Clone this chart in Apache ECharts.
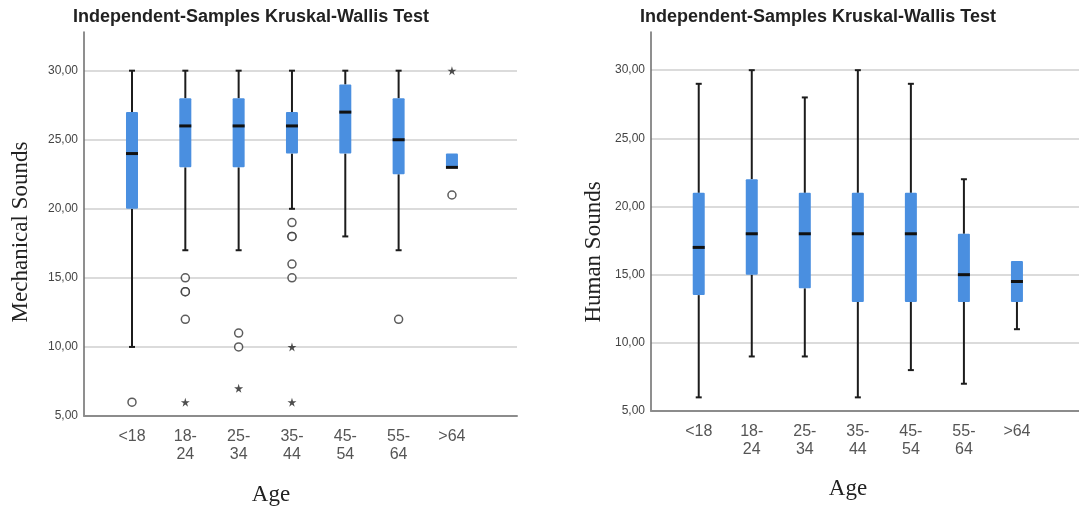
<!DOCTYPE html>
<html>
<head>
<meta charset="utf-8">
<script src="https://cdn.jsdelivr.net/npm/echarts@6/dist/echarts.min.js"></script>
<style>
  html, body { margin: 0; padding: 0; background: #fff; }
  #chart { width: 1079px; height: 508px; }
</style>
</head>
<body>
<div id="chart"></div>
<script>
var ageGroups = ['<18', '18-\n24', '25-\n34', '35-\n44', '45-\n54', '55-\n64', '>64'];
var yTicks = [5, 10, 15, 20, 25, 30];

// [low whisker, Q1, median, Q3, high whisker]
var mechBoxes = [
    [10, 20, 24, 27, 30],
    [17, 23, 26, 28, 30],
    [17, 23, 26, 28, 30],
    [20, 24, 26, 27, 30],
    [18, 24, 27, 29, 30],
    [17, 22.5, 25, 28, 30],
    [23, 23, 23, 24, 24]
];
var mechOutliers = [[0, 6], [1, 15], [1, 14], [1, 14], [1, 12], [2, 11], [2, 10],
    [3, 19], [3, 18], [3, 18], [3, 16], [3, 15], [5, 12], [6, 21]];
var mechExtremes = [[1, 6], [2, 7], [3, 10], [3, 6], [6, 30]];

var humanBoxes = [
    [6, 13.5, 17, 21, 29],
    [9, 15, 18, 22, 30],
    [9, 14, 18, 21, 28],
    [6, 13, 18, 21, 30],
    [8, 13, 18, 21, 29],
    [7, 13, 15, 18, 22],
    [11, 13, 14.5, 16, 16]
];

var boxBlue = '#4a8fe0';
var starPath = 'path://M50,0 L61,35 L98,35 L68,57 L79,91 L50,70 L21,91 L32,57 L2,35 L39,35 Z';

function renderBox(params, api) {
    var x = api.value(0);
    var low = api.coord([x, api.value(1)]);
    var q1 = api.coord([x, api.value(2)]);
    var med = api.coord([x, api.value(3)]);
    var q3 = api.coord([x, api.value(4)]);
    var high = api.coord([x, api.value(5)]);
    var cx = low[0], hw = 6, cap = 3;
    var kids = [];
    var wStyle = { stroke: '#1c1c1c', lineWidth: 2 };
    if (api.value(1) < api.value(2)) {
        kids.push({ type: 'line', shape: { x1: cx, y1: low[1], x2: cx, y2: q1[1] }, style: wStyle });
        kids.push({ type: 'line', shape: { x1: cx - cap, y1: low[1], x2: cx + cap, y2: low[1] }, style: wStyle });
    }
    if (api.value(5) > api.value(4)) {
        kids.push({ type: 'line', shape: { x1: cx, y1: high[1], x2: cx, y2: q3[1] }, style: wStyle });
        kids.push({ type: 'line', shape: { x1: cx - cap, y1: high[1], x2: cx + cap, y2: high[1] }, style: wStyle });
    }
    kids.push({ type: 'rect', shape: { x: cx - hw, y: q3[1], width: hw * 2, height: q1[1] - q3[1], r: 1 }, style: { fill: boxBlue } });
    kids.push({ type: 'line', shape: { x1: cx - hw, y1: med[1], x2: cx + hw, y2: med[1] }, style: { stroke: '#111', lineWidth: 3 } });
    return { type: 'group', children: kids };
}

function yLabel(v) { return v.toFixed(2).replace('.', ','); }

function xAxisFor(idx, maxV) {
    return {
        type: 'value', gridIndex: idx, min: -0.9, max: maxV,
        splitLine: { show: false },
        axisTick: { show: false, customValues: [0, 1, 2, 3, 4, 5, 6] },
        axisLine: { show: true, onZero: false, lineStyle: { color: '#8c8c8c', width: 2 } },
        axisLabel: {
            customValues: [0, 1, 2, 3, 4, 5, 6],
            formatter: function (v) { return ageGroups[Math.round(v)]; },
            color: '#555', fontFamily: 'Liberation Sans', fontSize: 16, lineHeight: 18, margin: 12
        }
    };
}

function yAxisFor(idx) {
    return {
        type: 'value', gridIndex: idx, min: 5, max: 32.8,
        axisLine: { show: true, onZero: false, lineStyle: { color: '#6a6a6a', width: 1.5 } },
        axisTick: { show: false, customValues: yTicks },
        axisLabel: { customValues: yTicks, formatter: yLabel, color: '#444', fontFamily: 'Liberation Sans', fontSize: 12, margin: 6 },
        splitLine: { show: true, lineStyle: { color: '#cfcfcf', width: 1.5 } }
    };
}

function boxSeries(idx, rows) {
    return {
        type: 'custom', xAxisIndex: idx, yAxisIndex: idx,
        renderItem: renderBox,
        encode: { x: 0, y: [1, 2, 3, 4, 5] },
        data: rows.map(function (r, i) { return [i].concat(r); }),
        z: 3
    };
}

function label(txt, x, y, font, rot) {
    return {
        type: 'text', x: x, y: y, rotation: rot || 0,
        style: { text: txt, font: font, fill: '#222', textAlign: 'center', align: 'center', textVerticalAlign: 'middle', verticalAlign: 'middle' }
    };
}

var option = {
    animation: false,
    grid: [
        { left: 84, top: 32, width: 433, height: 384 },
        { left: 651, top: 32, width: 428, height: 379 }
    ],
    xAxis: [xAxisFor(0, 7.22), xAxisFor(1, 7.17)],
    yAxis: [yAxisFor(0), yAxisFor(1)],
    graphic: [
        label('Independent-Samples Kruskal-Wallis Test', 251, 17, 'bold 18px "Liberation Sans"'),
        label('Independent-Samples Kruskal-Wallis Test', 818, 17, 'bold 18px "Liberation Sans"'),
        label('Age', 271, 495, '23px "Liberation Serif"'),
        label('Age', 848, 489, '23px "Liberation Serif"'),
        label('Mechanical Sounds', 21, 232, '23px "Liberation Serif"', Math.PI / 2),
        label('Human Sounds', 594, 252, '23px "Liberation Serif"', Math.PI / 2)
    ],
    series: [
        boxSeries(0, mechBoxes),
        boxSeries(1, humanBoxes),
        {
            type: 'scatter', xAxisIndex: 0, yAxisIndex: 0, data: mechOutliers,
            symbol: 'circle', symbolSize: 8, z: 4,
            itemStyle: { color: '#fff', borderColor: '#333', borderWidth: 1.5 }
        },
        {
            type: 'scatter', xAxisIndex: 0, yAxisIndex: 0, data: mechExtremes,
            symbol: starPath, symbolSize: 9, z: 4,
            itemStyle: { color: '#222' }
        }
    ]
};

var myChart = echarts.init(document.getElementById('chart'));
myChart.setOption(option);
</script>
</body>
</html>
